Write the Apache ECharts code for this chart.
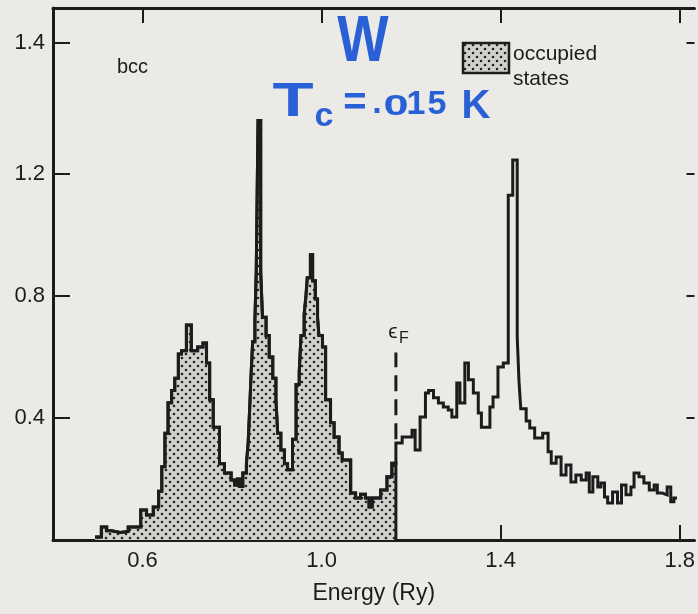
<!DOCTYPE html>
<html>
<head>
<meta charset="utf-8">
<script src="https://cdn.jsdelivr.net/npm/echarts@6/dist/echarts.min.js"></script>
<style>
html,body{margin:0;padding:0;background:#eceae6;}
#chart{width:698px;height:614px;}
</style>
</head>
<body>
<div id="chart"></div>
<script>
// ---- data ----
// left edge energy (Ry) of each histogram step
const stepEnergy = [
0.494,0.508,0.520,0.531,0.550,0.568,0.596,0.609,0.624,0.636,
0.643,0.650,0.657,0.665,0.672,0.680,0.687,0.698,0.709,0.723,
0.735,0.743,0.750,0.758,0.772,0.783,0.798,0.806,0.812,0.817,
0.824,0.832,0.836,0.839,0.843,0.846,0.851,0.854,0.858,0.864,
0.868,0.876,0.883,0.891,0.898,0.902,0.909,0.917,0.924,0.935,
0.943,0.950,0.954,0.961,0.965,0.968,0.975,0.980,0.986,0.991,
0.994,1.002,1.009,1.020,1.028,1.039,1.046,1.065,1.076,1.087,
1.098,1.106,1.113,1.132,1.146,1.157,1.166,1.180,1.202,1.209,
1.220,1.232,1.239,1.250,1.261,1.272,1.283,1.291,1.302,1.309,
1.320,1.328,1.339,1.350,1.357,1.376,1.383,1.394,1.406,1.417,
1.427,1.437,1.441,1.445,1.457,1.465,1.476,1.494,1.506,1.513,
1.524,1.535,1.546,1.557,1.568,1.580,1.591,1.598,1.606,1.617,
1.624,1.632,1.639,1.650,1.661,1.670,1.680,1.691,1.698,1.709,
1.720,1.732,1.743,1.750,1.761,1.772,1.780,1.787];
// density of states of each step
const stepDos = [
0.010,0.043,0.030,0.025,0.028,0.043,0.098,0.082,0.108,0.160,
0.240,0.350,0.450,0.490,0.530,0.610,0.620,0.705,0.620,0.633,
0.646,0.580,0.460,0.370,0.250,0.220,0.197,0.180,0.200,0.175,
0.220,0.250,0.320,0.420,0.560,0.650,0.720,0.880,1.375,0.880,
0.730,0.670,0.600,0.530,0.460,0.350,0.295,0.250,0.230,0.330,
0.510,0.550,0.670,0.740,0.800,0.860,0.935,0.850,0.790,0.730,
0.670,0.633,0.460,0.384,0.338,0.285,0.262,0.154,0.138,0.150,
0.138,0.108,0.138,0.164,0.207,0.252,0.318,0.338,0.360,0.295,
0.403,0.482,0.490,0.466,0.449,0.436,0.426,0.403,0.515,0.449,
0.580,0.525,0.482,0.416,0.370,0.436,0.469,0.567,0.580,1.130,
1.246,0.666,0.520,0.430,0.390,0.367,0.334,0.350,0.289,0.252,
0.272,0.213,0.246,0.190,0.213,0.197,0.220,0.157,0.207,0.174,
0.187,0.141,0.121,0.157,0.121,0.180,0.148,0.174,0.220,0.207,
0.187,0.164,0.180,0.154,0.148,0.174,0.125,0.138];
const curveEnd = 1.794;          // right end of the last step
const fermiEnergy = 1.166;       // E_F
const fermiDash = [0.33, 0.615]; // extent of the dashed E_F marker
const xTickValues = [0.6, 1.0, 1.4, 1.8];
const xTickLabels = ['0.6', '1.0', '1.4', '1.8'];
const yTickValues = [0.4, 0.8, 1.2, 1.63];
const yTickLabels = ['0.4', '0.8', '1.2', '1.4'];

// ---- build series data ----
const n = Math.min(stepEnergy.length, stepDos.length);
const fullCurve = [];
for (let i = 0; i < n; i++) fullCurve.push([stepEnergy[i], stepDos[i]]);
fullCurve.push([curveEnd, stepDos[n - 1]]);

const occupied = [];
let lastOcc = 0;
for (let i = 0; i < n; i++) {
  if (stepEnergy[i] < fermiEnergy - 1e-6) { occupied.push([stepEnergy[i], stepDos[i]]); lastOcc = stepDos[i]; }
}
occupied.push([fermiEnergy, lastOcc]);
occupied.push([fermiEnergy, 0]);

// dotted fill pattern
function makeDots() {
  const c = document.createElement('canvas');
  c.width = 8; c.height = 8;
  const g = c.getContext('2d');
  g.fillStyle = '#d2d0cb'; g.fillRect(0, 0, 8, 8);
  g.fillStyle = '#232323';
  [[2, 2], [6, 6]].forEach(p => { g.beginPath(); g.arc(p[0], p[1], 1.3, 0, Math.PI * 2); g.fill(); });
  return c;
}
const dots = makeDots();
const dotPattern = { image: dots, repeat: 'repeat' };

const ink = '#1c1c1c';
const textInk = '#1c1c1c';
const blue = '#2a60d6';
const fontFam = '"Liberation Sans", Arial, sans-serif';

function idxLabel(values, labels, v) {
  let best = 0, d = Infinity;
  values.forEach((t, i) => { if (Math.abs(t - v) < d) { d = Math.abs(t - v); best = i; } });
  return labels[best];
}

const frameLine = { show: true, onZero: false, lineStyle: { color: ink, width: 3 } };
const tickStyle = { lineStyle: { color: ink, width: 2 } };

function glyph(ch, x, y, size, color, weight, sx, sy) {
  return {
    type: 'text', x: x, y: y, scaleX: sx || 1, scaleY: sy || 1, silent: true,
    style: { text: ch, fill: color, font: (weight || 'normal') + ' ' + size + 'px ' + fontFam, align: 'center', verticalAlign: 'middle' }
  };
}
function leftText(t, x, y, size) {
  return { type: 'text', x: x, y: y, silent: true,
    style: { text: t, fill: textInk, font: size + 'px ' + fontFam, align: 'left', verticalAlign: 'middle' } };
}

const X_MAX = 1.833;
const chart = echarts.init(document.getElementById('chart'), null, { renderer: 'canvas' });
chart.setOption({
  backgroundColor: '#eceae6',
  animation: false,
  grid: { left: 53, right: 0, top: 8, bottom: 74 },
  xAxis: [{
    type: 'value', min: 0.4, max: X_MAX, position: 'bottom',
    axisLine: frameLine,
    axisTick: Object.assign({ show: true, inside: true, length: 15, customValues: xTickValues }, tickStyle),
    axisLabel: { customValues: xTickValues, formatter: v => idxLabel(xTickValues, xTickLabels, v),
      margin: 10, fontSize: 22, color: textInk, fontFamily: fontFam },
    splitLine: { show: false },
    name: 'Energy (Ry)', nameLocation: 'middle', nameGap: 42,
    nameTextStyle: { fontSize: 23, color: textInk, fontFamily: fontFam }
  }, {
    type: 'value', min: 0.4, max: X_MAX, position: 'top',
    axisLine: frameLine,
    axisTick: Object.assign({ show: true, inside: true, length: 15, customValues: xTickValues }, tickStyle),
    axisLabel: { show: false }, splitLine: { show: false }
  }],
  yAxis: [{
    type: 'value', min: 0, max: 1.744, position: 'left',
    axisLine: frameLine,
    axisTick: Object.assign({ show: true, inside: true, length: 17, customValues: yTickValues }, tickStyle),
    axisLabel: { customValues: yTickValues, formatter: v => idxLabel(yTickValues, yTickLabels, v),
      margin: 8, fontSize: 22, color: textInk, fontFamily: fontFam },
    splitLine: { show: false }
  }, {
    type: 'value', min: 0, max: 1.744, position: 'right',
    axisLine: { show: false },
    axisTick: Object.assign({ show: true, inside: true, length: 8, customValues: yTickValues }, tickStyle),
    axisLabel: { show: false }, splitLine: { show: false }
  }],
  series: [{
    name: 'occupied states', type: 'line', step: 'end', data: occupied,
    showSymbol: false, silent: true,
    lineStyle: { color: ink, width: 3, join: 'miter' },
    areaStyle: { color: dotPattern, opacity: 1 },
    z: 2
  }, {
    name: 'DOS', type: 'line', step: 'end', data: fullCurve,
    showSymbol: false, silent: true,
    lineStyle: { color: ink, width: 3, join: 'miter' },
    z: 3
  }, {
    name: 'E_F', type: 'line', data: [[fermiEnergy, fermiDash[0]], [fermiEnergy, fermiDash[1]]],
    showSymbol: false, silent: true,
    lineStyle: { color: ink, width: 3, type: [16, 8] },
    z: 3
  }],
  graphic: [
    leftText('bcc', 117, 67, 20),
    { type: 'rect', x: 463, y: 43, shape: { x: 0, y: 0, width: 46, height: 30 },
      style: { fill: dotPattern, stroke: ink, lineWidth: 2.5 }, silent: true },
    leftText('occupied', 513, 54, 21),
    leftText('states', 513, 79, 21),
    glyph('\u03F5', 393, 332, 21, textInk),
    glyph('F', 404, 339, 16, textInk),
    glyph('W', 363, 43, 64, blue, 'bold', 0.85, 1),
    glyph('T', 293, 103, 48, blue, 'bold', 1.4, 1),
    glyph('c', 324, 117, 34, blue, 'bold'),
    glyph('=', 355, 104, 40, blue, 'bold'),
    glyph('.', 377, 104, 34, blue, 'bold'),
    glyph('0', 396, 107, 30, blue, 'bold', 1.5, 1),
    glyph('1', 416, 105, 34, blue, 'bold'),
    glyph('5', 437, 105, 34, blue, 'bold'),
    glyph('K', 476, 107, 40, blue, 'bold')
  ]
});
</script>
</body>
</html>
